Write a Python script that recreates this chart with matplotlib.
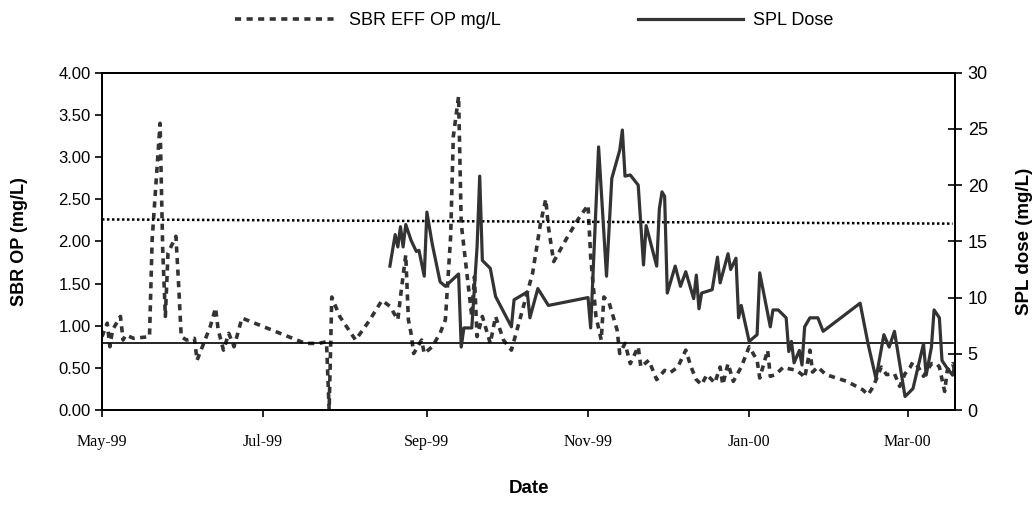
import matplotlib
matplotlib.use("Agg")
import matplotlib.pyplot as plt
import matplotlib.dates as mdates
from matplotlib.ticker import MultipleLocator, FormatStrFormatter
import pandas as pd

# SBR effluent OP (mg/L), left axis
sbr_dates = [
    "1999-05-01", "1999-05-03", "1999-05-04", "1999-05-05", "1999-05-08", "1999-05-09",
    "1999-05-10", "1999-05-13", "1999-05-19", "1999-05-20", "1999-05-23", "1999-05-24",
    "1999-05-25", "1999-05-26", "1999-05-29", "1999-05-30", "1999-05-31", "1999-06-02",
    "1999-06-05", "1999-06-06", "1999-06-08", "1999-06-11", "1999-06-13", "1999-06-14",
    "1999-06-16", "1999-06-18", "1999-06-20", "1999-06-23", "1999-07-17", "1999-07-22",
    "1999-07-25", "1999-07-26", "1999-07-27", "1999-07-30", "1999-08-02", "1999-08-05",
    "1999-08-10", "1999-08-15", "1999-08-18", "1999-08-21", "1999-08-22", "1999-08-24",
    "1999-08-25", "1999-08-26", "1999-08-27", "1999-08-30", "1999-08-31", "1999-09-03",
    "1999-09-06", "1999-09-08", "1999-09-10", "1999-09-11", "1999-09-13", "1999-09-14",
    "1999-09-16", "1999-09-18", "1999-09-19", "1999-09-20", "1999-09-22", "1999-09-25",
    "1999-09-27", "1999-09-30", "1999-10-03", "1999-10-11", "1999-10-14", "1999-10-16",
    "1999-10-17", "1999-10-19", "1999-10-24", "1999-10-28", "1999-11-01", "1999-11-02",
    "1999-11-04", "1999-11-06", "1999-11-07", "1999-11-09", "1999-11-12", "1999-11-13",
    "1999-11-15", "1999-11-17", "1999-11-20", "1999-11-21", "1999-11-24", "1999-11-27",
    "1999-11-30", "1999-12-02", "1999-12-05", "1999-12-08", "1999-12-10", "1999-12-12",
    "1999-12-14", "1999-12-16", "1999-12-19", "1999-12-21", "1999-12-22", "1999-12-24",
    "1999-12-26", "1999-12-29", "2000-01-01", "2000-01-04", "2000-01-05", "2000-01-08",
    "2000-01-09", "2000-01-11", "2000-01-14", "2000-01-16", "2000-01-19", "2000-01-21",
    "2000-01-22", "2000-01-24", "2000-01-25", "2000-01-27", "2000-01-29", "2000-01-30",
    "2000-02-07", "2000-02-13", "2000-02-15", "2000-02-17", "2000-02-20", "2000-02-22",
    "2000-02-25", "2000-02-27", "2000-02-29", "2000-03-02", "2000-03-03", "2000-03-05",
    "2000-03-07", "2000-03-10", "2000-03-12", "2000-03-13", "2000-03-15", "2000-03-16",
    "2000-03-18", "2000-03-19",
]
sbr_op = [
    0.87, 1.03, 0.75, 0.95, 1.11, 0.83,
    0.89, 0.85, 0.87, 2.02, 3.40, 1.90,
    1.11, 1.86, 2.06, 1.50, 0.87, 0.83,
    0.85, 0.59, 0.75, 0.99, 1.21, 0.95,
    0.71, 0.91, 0.75, 1.09, 0.79, 0.79,
    0.81, 0.00, 1.34, 1.11, 0.97, 0.83,
    1.05, 1.30, 1.23, 1.07, 1.34, 1.84,
    1.07, 0.91, 0.67, 0.83, 0.67, 0.75,
    0.91, 1.07, 2.06, 3.24, 3.72, 2.21,
    1.66, 1.11, 1.58, 0.87, 1.11, 0.79,
    1.11, 0.83, 0.71, 1.62, 2.21, 2.50,
    2.17, 1.76, 2.04, 2.25, 2.43, 1.82,
    1.11, 0.83, 1.34, 1.27, 0.95, 0.67,
    0.79, 0.55, 0.75, 0.51, 0.59, 0.36,
    0.47, 0.44, 0.51, 0.71, 0.51, 0.36,
    0.30, 0.42, 0.32, 0.51, 0.30, 0.55,
    0.34, 0.51, 0.75, 0.59, 0.38, 0.71,
    0.40, 0.42, 0.51, 0.49, 0.47, 0.42,
    0.38, 0.71, 0.45, 0.51, 0.45, 0.42,
    0.34, 0.24, 0.18, 0.28, 0.51, 0.42,
    0.43, 0.28, 0.43, 0.51, 0.57, 0.51,
    0.40, 0.55, 0.55, 0.51, 0.22, 0.47,
    0.55, 0.47,
]

# SPL dose (mg/L), right axis
spl_dates = [
    "1999-08-18", "1999-08-20", "1999-08-21", "1999-08-22", "1999-08-23", "1999-08-24",
    "1999-08-26", "1999-08-28", "1999-08-29", "1999-08-31", "1999-09-01", "1999-09-03",
    "1999-09-06", "1999-09-08", "1999-09-13", "1999-09-14", "1999-09-15", "1999-09-18",
    "1999-09-20", "1999-09-21", "1999-09-22", "1999-09-25", "1999-09-27", "1999-10-03",
    "1999-10-04", "1999-10-09", "1999-10-10", "1999-10-13", "1999-10-17", "1999-11-01",
    "1999-11-02", "1999-11-05", "1999-11-08", "1999-11-10", "1999-11-13", "1999-11-14",
    "1999-11-15", "1999-11-17", "1999-11-20", "1999-11-22", "1999-11-23", "1999-11-27",
    "1999-11-28", "1999-11-29", "1999-11-30", "1999-12-01", "1999-12-04", "1999-12-06",
    "1999-12-08", "1999-12-11", "1999-12-12", "1999-12-13", "1999-12-14", "1999-12-18",
    "1999-12-20", "1999-12-21", "1999-12-24", "1999-12-25", "1999-12-27", "1999-12-28",
    "1999-12-29", "2000-01-01", "2000-01-04", "2000-01-05", "2000-01-09", "2000-01-10",
    "2000-01-12", "2000-01-15", "2000-01-16", "2000-01-17", "2000-01-18", "2000-01-20",
    "2000-01-21", "2000-01-22", "2000-01-24", "2000-01-27", "2000-01-29", "2000-02-12",
    "2000-02-15", "2000-02-18", "2000-02-21", "2000-02-23", "2000-02-25", "2000-02-29",
    "2000-03-03", "2000-03-07", "2000-03-08", "2000-03-10", "2000-03-11", "2000-03-13",
    "2000-03-14", "2000-03-16", "2000-03-18", "2000-03-19",
]
spl_dose = [
    12.8, 15.6, 14.5, 16.3, 14.5, 16.5,
    15.1, 14.1, 14.2, 11.9, 17.6, 14.8,
    11.4, 11.0, 12.1, 5.6, 7.3, 7.3,
    14.5, 20.8, 13.3, 12.6, 10.1, 7.4,
    9.8, 10.5, 8.2, 10.8, 9.3, 10.0,
    7.3, 23.4, 11.9, 20.6, 23.1, 24.9,
    20.8, 20.9, 20.0, 12.9, 16.4, 12.8,
    17.9, 19.4, 19.0, 10.4, 12.8, 11.0,
    12.3, 9.9, 12.0, 9.0, 10.4, 10.7,
    13.6, 11.3, 13.9, 12.5, 13.5, 8.2,
    9.3, 6.1, 6.7, 12.2, 7.4, 8.9,
    8.9, 8.2, 5.2, 6.1, 4.2, 5.3,
    4.0, 7.4, 8.2, 8.2, 7.0, 9.5,
    5.9, 2.8, 6.7, 5.6, 7.0, 1.2,
    1.9, 5.9, 3.1, 5.6, 8.9, 8.2,
    4.4, 3.7, 3.1, 4.2,
]

# reference lines (left axis)
ref_dates = ["1999-05-01", "2000-03-18"]
upper_ref = [2.26, 2.21]
lower_ref = [0.79, 0.79]

sbr_x = pd.to_datetime(sbr_dates)
spl_x = pd.to_datetime(spl_dates)
ref_x = pd.to_datetime(ref_dates)

grey = "#333333"
sans = "Liberation Sans"
serif = "Liberation Serif"

fig = plt.figure(figsize=(10.33, 5.14), dpi=100)
ax = fig.add_axes([0.0987, 0.2023, 0.826, 0.6563])
ax2 = ax.twinx()

sbr_line, = ax.plot(sbr_x, sbr_op, color=grey, lw=2.6, dashes=(1.7, 1.5),
                    label="SBR EFF OP mg/L")
ax.plot(ref_x, upper_ref, color="black", lw=1.8, linestyle=(0, (1, 1)))
ax.plot(ref_x, lower_ref, color="black", lw=1.2)
spl_line, = ax2.plot(spl_x, spl_dose, color=grey, lw=2.3, label="SPL Dose")

ax.set_xlim(pd.Timestamp("1999-05-01"), pd.Timestamp("2000-03-19"))
ax.set_ylim(0, 4)
ax2.set_ylim(0, 30)
ax.yaxis.set_major_locator(MultipleLocator(0.5))
ax.yaxis.set_major_formatter(FormatStrFormatter("%.2f"))
ax2.yaxis.set_major_locator(MultipleLocator(5))

ax.xaxis.set_major_locator(mdates.MonthLocator(bymonth=[1, 3, 5, 7, 9, 11]))
ax.xaxis.set_major_formatter(mdates.DateFormatter("%b-%y"))

for a in (ax, ax2):
    for s in a.spines.values():
        s.set_linewidth(1.3)
ax.tick_params(axis="y", direction="out", length=5, width=1.2, labelsize=12, pad=3)
ax.tick_params(axis="x", direction="out", length=5, width=1.2, labelsize=11.5, pad=12)
ax2.tick_params(axis="y", direction="inout", length=10, width=1.2, labelsize=13, pad=4)
for lab in ax.get_yticklabels() + ax2.get_yticklabels():
    lab.set_family(sans)
for lab in ax.get_xticklabels():
    lab.set_family(serif)

ax.set_ylabel("SBR OP (mg/L)", family=sans, fontsize=13, fontweight="bold", labelpad=22)
ax2.set_ylabel("SPL dose (mg/L)", family=sans, fontsize=13.5, fontweight="bold", labelpad=20)
ax.set_xlabel("Date", family=sans, fontsize=13.5, fontweight="bold", labelpad=22)

fig.legend(handles=[sbr_line, spl_line], loc="center", bbox_to_anchor=(0.517, 0.96),
           ncol=2, frameon=False, handlelength=5.8, columnspacing=7.6, handletextpad=0.55,
           prop={"family": sans, "size": 13})

fig.savefig("out.png", dpi=100)
